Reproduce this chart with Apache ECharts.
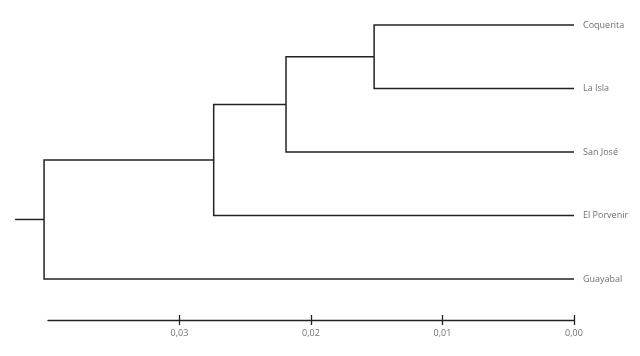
<!DOCTYPE html>
<html>
<head>
<meta charset="utf-8">
<script src="https://cdn.jsdelivr.net/npm/echarts@6/dist/echarts.min.js"></script>
<style>html,body{margin:0;padding:0;background:#fff}#c{width:640px;height:356px}</style>
</head>
<body>
<div id="c"></div>
<script>
// Leaves (top to bottom)
var leaves = ['Coquerita', 'La Isla', 'San José', 'El Porvenir', 'Guayabal'];
// Merges: children refer to leaf index (number) or previous merge ('m' + index)
var mergeLeft = [0, 'm0', 'm1', 'm2'];
var mergeRight = [1, 2, 3, 4];
var mergeHeight = [0.0152, 0.0219, 0.0274, 0.0403];
var rootStub = 0.0425;
var tickValues = [0, 0.01, 0.02, 0.03];

// Build segments from the merge table
var nodes = {};
leaves.forEach(function (n, i) { nodes[i] = { h: 0, y: i }; });
var segments = [];
mergeHeight.forEach(function (h, i) {
  var a = nodes[mergeLeft[i]], b = nodes[mergeRight[i]];
  segments.push([[a.h, a.y], [h, a.y], [h, b.y], [b.h, b.y]]);
  nodes['m' + i] = { h: h, y: (a.y + b.y) / 2 };
});
var root = nodes['m' + (mergeHeight.length - 1)];
segments.push([[root.h, root.y], [rootStub, root.y]]);

var chart = echarts.init(document.getElementById('c'));
chart.setOption({
  animation: false,
  grid: { left: 48, right: 66, top: 25, bottom: 77 },
  xAxis: [{
    type: 'value', inverse: true, min: 0, max: 0.04, interval: 0.01,
    position: 'bottom', offset: 41,
    splitLine: { show: false },
    axisLine: { show: true, onZero: false, lineStyle: { color: '#222', width: 1.3 } },
    axisTick: { show: true, length: 5, inside: false, lineStyle: { color: '#222', width: 1.3 },
      customValues: tickValues },
    axisLabel: { color: '#707070', fontSize: 9, fontFamily: 'Open Sans', margin: 9,
      customValues: tickValues,
      formatter: function (v) { return v.toFixed(2).replace('.', ','); } }
  }, {
    type: 'value', inverse: true, min: 0, max: 0.04, interval: 0.01,
    position: 'top', offset: -295,
    splitLine: { show: false },
    axisLine: { show: false, onZero: false },
    axisTick: { show: true, length: 5, inside: false, lineStyle: { color: '#222', width: 1.3 },
      customValues: tickValues },
    axisLabel: { show: false }
  }],
  yAxis: [{
    type: 'value', min: 0, max: leaves.length - 1, inverse: true, show: false
  }, {
    type: 'category', data: leaves, boundaryGap: false, inverse: true, position: 'right',
    axisLine: { show: false }, axisTick: { show: false }, splitLine: { show: false },
    axisLabel: { color: '#707070', fontSize: 9, fontFamily: 'Open Sans', margin: 9 }
  }],
  series: [{
    type: 'lines',
    coordinateSystem: 'cartesian2d',
    polyline: true,
    xAxisIndex: 0, yAxisIndex: 0,
    clip: false,
    silent: true,
    lineStyle: { color: '#222', width: 1.5, opacity: 1 },
    data: segments.map(function (s) { return { coords: s }; })
  }]
});
</script>
</body>
</html>
